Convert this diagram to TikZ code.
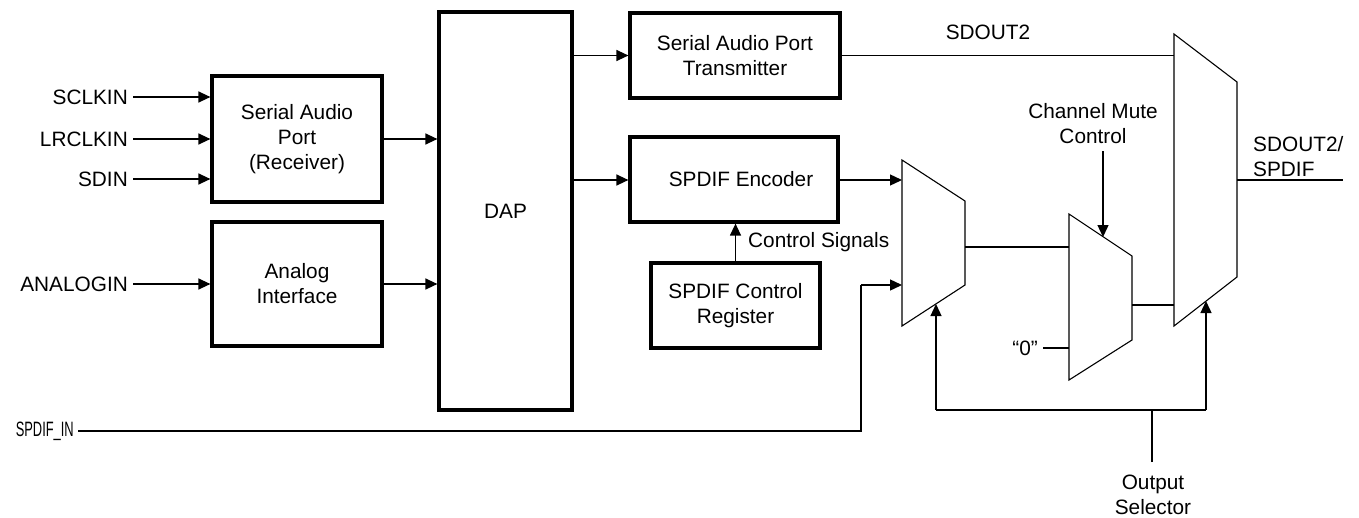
\documentclass[tikz,border=0pt]{standalone}
\usepackage{fontspec}
\setmainfont{Liberation Sans}
\usetikzlibrary{arrows.meta}
\begin{document}
\begin{tikzpicture}[x=1pt,y=-1pt,
  font=\fontsize{20.8}{25}\selectfont,
  blk/.style={draw, line width=3.2pt, align=center, inner sep=0pt},
  wire/.style={line width=1.3pt},
  arr/.style={wire, -{Triangle[length=12pt,width=11pt]}},
  mux/.style={line width=1.1pt},
  lbl/.style={inner sep=0pt}]
\useasboundingbox (0,0) rectangle (1359,517);

% blocks
\node[blk, minimum width=170pt, minimum height=126pt] (rx) at (297,139) {Serial Audio\\Port\\(Receiver)};
\node[blk, minimum width=170pt, minimum height=124pt] (an) at (297,284) {Analog\\Interface};
\node[blk, minimum width=133pt, minimum height=398pt] (dap) at (505.5,211) {DAP};
\node[blk, minimum width=210pt, minimum height=85pt] (tx) at (735,55.5) {Serial Audio Port\\Transmitter};
\node[blk, minimum width=208pt, minimum height=85pt] (enc) at (734,179.5) {\hspace*{14pt}SPDIF Encoder};
\node[blk, minimum width=169pt, minimum height=85pt] (cr) at (735.5,305.5) {SPDIF Control\\Register};

% input labels
\node[lbl, anchor=east, inner xsep=5pt] (sclk) at (133,97) {SCLKIN};
\node[lbl, anchor=east, inner xsep=5pt] (lrclk) at (133,139) {LRCLKIN};
\node[lbl, anchor=east, inner xsep=5pt] (sdin) at (133,179) {SDIN};
\node[lbl, anchor=east, inner xsep=5pt] (ain) at (133,284) {ANALOGIN};
\node[lbl, anchor=east, inner xsep=4pt] (spin) at (78,431) {\scalebox{0.62}[1]{SPDIF\_IN}};

\draw[arr] (sclk.east) -- (sclk.east -| rx.west);
\draw[arr] (lrclk.east) -- (lrclk.east -| rx.west);
\draw[arr] (sdin.east) -- (sdin.east -| rx.west);
\draw[arr] (ain.east) -- (ain.east -| an.west);

\draw[arr] (rx.east) -- (rx.east -| dap.west);
\draw[arr] (an.east) -- (an.east -| dap.west);
\draw[arr] (dap.east |- tx.west) -- (tx.west);
\draw[arr] (dap.east |- 0,180) -- (0,180 -| enc.west);
\draw[arr] (cr.north) -- (cr.north |- enc.south);
\node[lbl, anchor=west] (cs) at (748,242) {Control Signals};

% muxes
\coordinate (m1a) at (902,160); \coordinate (m1b) at (965,201);
\coordinate (m1c) at (965,285); \coordinate (m1d) at (902,326);
\coordinate (m2a) at (1069,214); \coordinate (m2b) at (1132,256);
\coordinate (m2c) at (1132,340); \coordinate (m2d) at (1069,380);
\coordinate (m3a) at (1174,34); \coordinate (m3b) at (1237,82);
\coordinate (m3c) at (1237,277); \coordinate (m3d) at (1174,326);
\draw[mux] (m1a) -- (m1b) -- (m1c) -- (m1d) -- cycle;
\draw[mux] (m2a) -- (m2b) -- (m2c) -- (m2d) -- cycle;
\draw[mux] (m3a) -- (m3b) -- (m3c) -- (m3d) -- cycle;

% signals into muxes
\draw[arr] (0,180 -| enc.east) -- (0,180 -| m1a);
\draw[wire] (tx.east) -- (tx.east -| m3a);
\node[lbl] (sdout2) at (988,32) {SDOUT2};
\coordinate (sp1) at (861,431);
\coordinate (sp2) at (861,285);
\draw[wire] (spin.east) -- (sp1) -- (sp2);
\draw[arr] (sp2) -- (sp2 -| m1a);

\draw[wire] (965,247) -- (1069,247);
\draw[wire] (1132,305) -- (1174,305);
\node[lbl, anchor=east] (zero) at (1038,348) {``0''};
\draw[wire] (1043,348) -- (1069,348);
\coordinate (outend) at (1343,180);
\draw[wire] (1237,180) -- (outend);
\node[lbl, anchor=west, align=left] (outl) at (1253,157) {SDOUT2/\\SPDIF};

% channel mute
\node[lbl, align=center] (cmc) at (1093,124) {Channel Mute\\Control};
\draw[arr] (1103,151) -- (1103,237);

% output selector
\node[lbl, align=center] (osel) at (1153,495) {Output\\Selector};
\coordinate (os0) at (1152,462);
\coordinate (os1) at (1152,410);
\coordinate (osl) at (936,410);
\coordinate (osr) at (1206,410);
\draw[wire] (os0) -- (os1);
\draw[wire] (osl) -- (osr);
\draw[arr] (osl) -- (936,304);
\draw[arr] (osr) -- (1206,301);
\end{tikzpicture}
\end{document}
